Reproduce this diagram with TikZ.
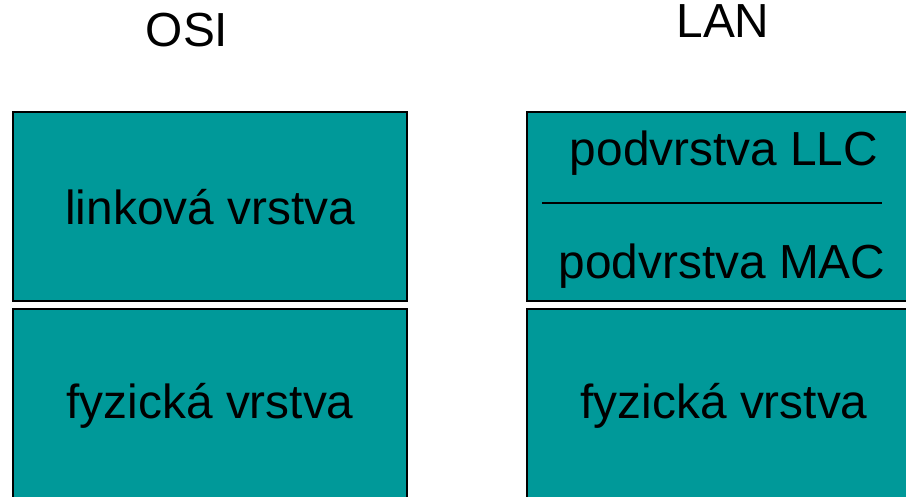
\documentclass[tikz,border=0pt]{standalone}
\usepackage{fontspec}
\setmainfont{Liberation Sans}
\definecolor{vrstva}{HTML}{009999}
\tikzset{
    layerbox/.style={draw=black,line width=1.6pt,fill=vrstva,anchor=north west,inner sep=0pt},
    layertext/.style={font=\fontsize{34}{40}\selectfont,inner sep=0pt},
}
\begin{document}
\begin{tikzpicture}[x=0.025cm,y=-0.025cm]
                \useasboundingbox (0,0) rectangle (906,496);
                \clip (0,0) rectangle (906,496);
                \node[layertext] (osi) at (187,30) {OSI};
                \node[layertext] (lan) at (723,21) {LAN};
                % OSI column
                \node[layerbox,minimum width=394*0.025cm,minimum height=189*0.025cm,layertext] (link) at (12,111) {linková vrstva};
                \node[layerbox,minimum width=394*0.025cm,minimum height=194*0.025cm,layertext] (phys) at (12,308) {fyzická vrstva};
                % LAN column
                \node[layerbox,minimum width=394*0.025cm,minimum height=189*0.025cm] (sub) at (526,111) {};
                \node[layertext] (llc) at (724,153) {podvrstva LLC};
                \node[layertext] (mac) at (722,266) {podvrstva MAC};
                \draw[line width=1.4pt] (542,203) -- (882,203);
                \node[layerbox,minimum width=394*0.025cm,minimum height=194*0.025cm,layertext] (lanphys) at (526,308) {fyzická vrstva};
            \end{tikzpicture}
\end{document}
